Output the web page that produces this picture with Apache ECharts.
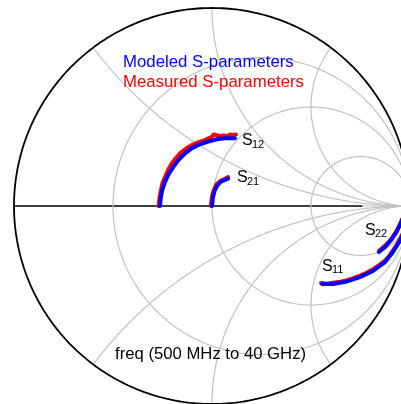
<!DOCTYPE html>
<html>
<head>
<meta charset="utf-8">
<script src="https://cdn.jsdelivr.net/npm/echarts@6/dist/echarts.min.js"></script>
<style>
  html, body { margin: 0; padding: 0; background: #fff; }
  #chart { width: 401px; height: 404px; }
</style>
</head>
<body>
<div id="chart"></div>
<script>
// Smith chart grid: normalized resistance circles and reactance arcs
const resistanceCircles = [1 / 3, 1, 3];
const reactanceArcs = [0.5, 1, 2];

// Reflection / transmission coefficients as [real, imag], 500 MHz to 40 GHz
const s12Modeled = [[-0.263, 0.000], [-0.259, 0.039], [-0.251, 0.081], [-0.237, 0.123], [-0.217, 0.165], [-0.195, 0.198], [-0.170, 0.232], [-0.136, 0.266], [-0.103, 0.291], [-0.061, 0.312], [-0.019, 0.325], [0.024, 0.337], [0.066, 0.342], [0.116, 0.342]];
const s12Measured = [[-0.270, 0.000], [-0.265, 0.040], [-0.260, 0.071], [-0.250, 0.116], [-0.235, 0.152], [-0.222, 0.182], [-0.202, 0.217], [-0.182, 0.242], [-0.159, 0.268], [-0.131, 0.290], [-0.101, 0.308], [-0.071, 0.321], [-0.040, 0.331], [-0.020, 0.341], [-0.005, 0.346], [0.010, 0.361], [0.020, 0.351], [0.040, 0.354], [0.061, 0.356], [0.076, 0.351], [0.091, 0.361], [0.106, 0.359], [0.121, 0.361]];

const s21Modeled = [[0.000, 0.000], [0.004, 0.040], [0.013, 0.076], [0.027, 0.104], [0.047, 0.124], [0.081, 0.138]];
const s21Measured = [[-0.005, 0.000], [-0.001, 0.045], [0.009, 0.080], [0.023, 0.110], [0.045, 0.128], [0.060, 0.134], [0.081, 0.146]];

const s11Modeled = [[0.556, -0.394], [0.611, -0.394], [0.682, -0.381], [0.747, -0.359], [0.813, -0.328], [0.874, -0.283], [0.914, -0.232], [0.949, -0.177], [0.975, -0.121]];
const s11Measured = [[0.551, -0.389], [0.580, -0.392], [0.611, -0.388], [0.646, -0.383], [0.682, -0.375], [0.715, -0.364], [0.747, -0.352], [0.780, -0.337], [0.813, -0.320], [0.845, -0.298], [0.874, -0.276], [0.896, -0.251], [0.914, -0.224], [0.933, -0.196], [0.949, -0.168], [0.975, -0.112]];

const s22Modeled = [[0.843, -0.232], [0.874, -0.207], [0.907, -0.169], [0.932, -0.131], [0.949, -0.096], [0.965, -0.061]];
const s22Measured = [[0.845, -0.225], [0.876, -0.199], [0.894, -0.180], [0.909, -0.161], [0.934, -0.123], [0.951, -0.088], [0.967, -0.053]];

const MODELED = 'Modeled S-parameters';
const MEASURED = 'Measured S-parameters';
const FONT = '"Liberation Sans", Arial, sans-serif';
const GRID_COLOR = '#c2c2c2';

// The chart disc spans 396 px; the canvas shows it from the left rim up to 189 px right of center
const RIGHT_EDGE = 189 / 198;

// Constant-resistance circle: center (r/(1+r), 0), radius 1/(1+r)
function resistanceCircle(r) {
  const c = r / (1 + r), R = 1 / (1 + r), pts = [];
  for (let i = 0; i <= 360; i++) {
    const a = i * Math.PI / 180;
    pts.push([c + R * Math.cos(a), R * Math.sin(a)]);
  }
  return pts;
}

// Constant-reactance arc, clipped to the unit circle
function reactanceArc(x) {
  const cy = 1 / x, R = 1 / Math.abs(x);
  const px = (x * x - 1) / (x * x + 1), py = 2 * x / (x * x + 1);
  let a0 = Math.atan2(py - cy, px - 1);
  if (a0 < 0) a0 += 2 * Math.PI;
  const a1 = x > 0 ? 1.5 * Math.PI : 0.5 * Math.PI;
  const pts = [], n = 240;
  for (let i = 0; i <= n; i++) {
    const a = a0 + (a1 - a0) * i / n;
    pts.push([1 + R * Math.cos(a), cy + R * Math.sin(a)]);
  }
  return pts;
}

function gridLine(data, color, width, z) {
  return {
    type: 'line', data: data, showSymbol: false, silent: true, z: z,
    lineStyle: { color: color, width: width }, clip: false
  };
}

function traceSeries(name, data, color, z) {
  return {
    name: name, type: 'line', data: data, showSymbol: false, silent: true, z: z,
    lineStyle: { color: color, width: 4, cap: 'round', join: 'round' },
    itemStyle: { color: color }, clip: false
  };
}

const series = [];
// real axis
series.push(gridLine([[-1, 0], [0.76, 0]], '#000', 1.5, 1));
series.push(gridLine([[0.76, 0], [1, 0]], GRID_COLOR, 1.2, 2));
resistanceCircles.forEach(r => series.push(gridLine(resistanceCircle(r), GRID_COLOR, 1.2, 2)));
reactanceArcs.forEach(x => {
  series.push(gridLine(reactanceArc(x), GRID_COLOR, 1.2, 2));
  series.push(gridLine(reactanceArc(-x), GRID_COLOR, 1.2, 2));
});
// outer boundary |Γ| = 1
series.push(gridLine(resistanceCircle(0), '#000', 1.8, 3));

[s12Measured, s21Measured, s11Measured, s22Measured].forEach(d => series.push(traceSeries(MEASURED, d, '#ff0000', 5)));
[s12Modeled, s21Modeled, s11Modeled, s22Modeled].forEach(d => series.push(traceSeries(MODELED, d, '#0000ff', 6)));

// trace name labels: S with subscript
const traceLabels = [
  { sub: '12', x: 242, y: 141 },
  { sub: '21', x: 237, y: 178 },
  { sub: '22', x: 365, y: 230.5 },
  { sub: '11', x: 322, y: 266.5 }
];
const graphics = [];
traceLabels.forEach(l => {
  graphics.push({ type: 'text', left: l.x, top: l.y - 8, z: 10,
    style: { text: 'S', fontSize: 16, fontFamily: FONT, fill: '#000' } });
  graphics.push({ type: 'text', left: l.x + 10, top: l.y - 2, z: 10,
    style: { text: l.sub, fontSize: 11, fontFamily: FONT, fill: '#000' } });
});
graphics.push({ type: 'text', left: 115, top: 346, z: 10,
  style: { text: 'freq (500 MHz to 40 GHz)', fontSize: 16.7, fontFamily: FONT, fill: '#000' } });

const chart = echarts.init(document.getElementById('chart'), null, { renderer: 'canvas' });
chart.setOption({
  animation: false,
  backgroundColor: '#fff',
  grid: { left: 14, top: 8, right: 0, height: 396 },
  xAxis: { type: 'value', min: -1, max: RIGHT_EDGE, show: false },
  yAxis: { type: 'value', min: -1, max: 1, show: false },
  legend: {
    data: [
      { name: MODELED, textStyle: { color: '#0000ff' } },
      { name: MEASURED, textStyle: { color: '#ff0000' } }
    ],
    orient: 'vertical', left: 117, top: 54, padding: 0,
    itemWidth: 0, itemHeight: 0, itemGap: 3, selectedMode: false,
    itemStyle: { opacity: 0 }, lineStyle: { opacity: 0 },
    textStyle: { fontSize: 16.8, fontFamily: FONT }
  },
  graphic: graphics,
  series: series
});
</script>
</body>
</html>
